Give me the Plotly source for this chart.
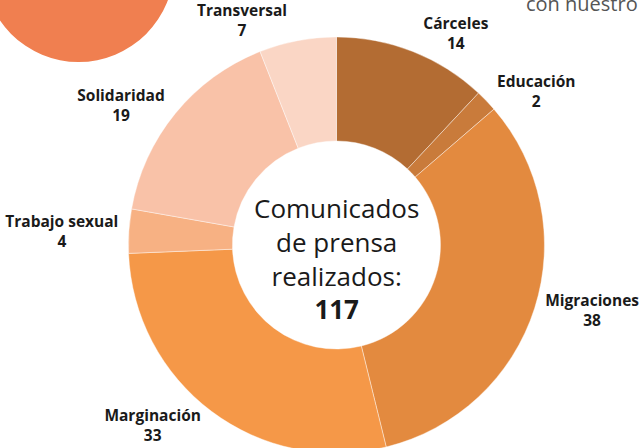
import plotly.graph_objects as go

categories = ["Cárceles", "Educación", "Migraciones", "Marginación",
              "Trabajo sexual", "Solidaridad", "Transversal"]
values = [14, 2, 38, 33, 4, 19, 7]
colors = ["#B36C33", "#C97B3B", "#E38A3F", "#F59848",
          "#F7B183", "#F9C2A8", "#FAD6C5"]
total = sum(values)

SHIFT = 30
W, H = 644, 460 + SHIFT
cx, cy, r = 337, 245 + SHIFT, 209

fig = go.Figure(go.Pie(
    labels=categories,
    values=values,
    sort=False,
    direction="clockwise",
    rotation=0,
    hole=0.5,
    marker=dict(colors=colors, line=dict(color="rgba(255,255,255,0.6)", width=0.7)),
    texttemplate="<b>%{label}</b><br><b>%{value}</b>",
    textposition="outside",
    textfont=dict(family="Open Sans", size=15.5, color="#1a1a1a"),
    hoverinfo="label+value",
    domain=dict(x=[(cx - r) / W, (cx + r) / W], y=[(H - cy - r) / H, (H - cy + r) / H]),
    showlegend=False,
))

fig.add_shape(type="circle", xref="paper", yref="paper",
              x0=(78 - 96) / W, x1=(78 + 96) / W,
              y0=1 - (SHIFT - 34 + 96) / H, y1=1 - (SHIFT - 34 - 96) / H,
              fillcolor="#F07F50", line=dict(width=0), layer="below")

fig.add_annotation(x=cx / W, y=1 - (258 + SHIFT) / H, xref="paper", yref="paper",
                   text="Comunicados<br>de prensa<br>realizados:<br><b>%d</b>" % total,
                   showarrow=False, align="center",
                   font=dict(family="Open Sans", size=26, color="#1a1a1a"))

fig.add_annotation(x=525 / W, y=1 - (19 + SHIFT) / H, xref="paper", yref="paper",
                   text="con nuestro", showarrow=False, xanchor="left", yanchor="bottom",
                   font=dict(family="Open Sans", size=20, color="#555555"))

fig.update_layout(width=W, height=H, margin=dict(l=0, r=0, t=0, b=0),
                  paper_bgcolor="white", plot_bgcolor="white")

fig.write_html("out.html", config={"displayModeBar": False},
               post_script="document.body.style.margin='0';document.body.style.marginTop='-%dpx';"
                           "document.body.style.overflow='hidden';" % SHIFT)
